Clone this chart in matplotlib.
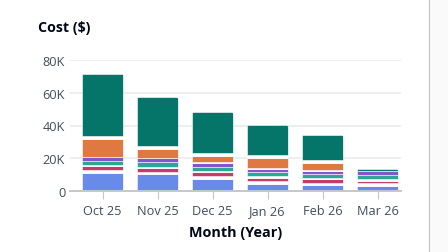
import matplotlib
matplotlib.use('Agg')
import matplotlib.pyplot as plt
import numpy as np
from matplotlib.patches import FancyBboxPatch, Rectangle
from matplotlib.lines import Line2D

plt.rcParams['font.family'] = ['Open Sans', 'DejaVu Sans']

# ---- data (values in $K, stack order bottom -> top) ----
months = ['Oct 25', 'Nov 25', 'Dec 25', 'Jan 26', 'Feb 26', 'Mar 26']
blue     = [11.2, 10.2, 7.3, 4.3, 3.7, 3.0]
gap1     = [1.6, 1.6, 1.6, 1.6, 1.4, 2.0]
pink     = [2.2, 2.2, 2.7, 2.2, 2.1, 1.4]
gap2     = [0.8, 0.8, 0.6, 0.8, 0.6, 1.2]
teal     = [2.4, 2.7, 2.6, 2.4, 2.4, 2.1]
purple   = [2.4, 2.4, 2.4, 2.4, 2.0, 2.3]
gap3     = [0.0, 0.3, 0.8, 0.6, 0.6, 0.1]
orange   = [11.0, 5.7, 3.4, 5.7, 4.1, 0.2]
gap4     = [1.8, 1.6, 2.1, 2.0, 1.8, 0.2]
darkteal = [38.3, 29.7, 24.6, 18.1, 15.5, 0.8]

series = [
    (blue, '#688ae8'),
    (gap1, '#ffffff'),
    (pink, '#c33d69'),
    (gap2, '#ffffff'),
    (teal, '#2ea597'),
    (purple, '#8456ce'),
    (gap3, '#ffffff'),
    (orange, '#e07941'),
    (gap4, '#ffffff'),
    (darkteal, '#067569'),
]

W, H = 448, 253
fig = plt.figure(figsize=(W / 100, H / 100), dpi=100)
fig.patch.set_facecolor('white')

# right-hand panel edge
fig.add_artist(Rectangle((429 / W, 0), 1 - 429 / W, 1, transform=fig.transFigure,
                         facecolor='#fafafa', edgecolor='none', zorder=0))
fig.add_artist(Line2D([428.5 / W, 428.5 / W], [0, 1], transform=fig.transFigure,
                      color='#c6c6cd', lw=0.9))

ax = fig.add_axes([70 / W, 1 - 192 / H, 331 / W, 131 / H])
x = np.arange(len(months))
bar_w = 0.758
bottom = np.zeros(len(months))
containers = []
for vals, col in series:
    v = np.array(vals) * 1000
    bc = ax.bar(x, v, bar_w, bottom=bottom, color=col, edgecolor='white',
                linewidth=0.4, zorder=3)
    containers.append(bc)
    bottom += v

ax.set_xlim(-0.591, 5.427)
ax.set_ylim(0, 80000)

# rounded corners per stacked bar (clip to a rounded box)
rx = 2.5 / 55.0
ry = 2.5 * 80000 / 131.0
for i in range(len(months)):
    p0 = containers[0].patches[i]
    clip = FancyBboxPatch((p0.get_x(), 0), p0.get_width(), bottom[i],
                          boxstyle=f'round,pad=0,rounding_size={rx}',
                          mutation_aspect=ry / rx, transform=ax.transData,
                          facecolor='none', edgecolor='none')
    for bc in containers:
        bc.patches[i].set_clip_path(clip)

ax.set_yticks([0, 20000, 40000, 60000, 80000])
ax.set_yticklabels(['0', '20K', '40K', '60K', '80K'])
ax.set_xticks(x)
ax.set_xticklabels(months)
ax.yaxis.grid(True, color='#e9ebed', lw=1.2, zorder=0)
ax.set_axisbelow(True)
for s in ['top', 'right', 'left']:
    ax.spines[s].set_visible(False)
ax.spines['bottom'].set_color('#c6c6cd')
ax.spines['bottom'].set_linewidth(1.4)
ax.spines['bottom'].set_zorder(4)
ax.tick_params(axis='y', length=0, pad=3.5, labelsize=9.2, colors='#414d5c')
ax.tick_params(axis='x', length=6, width=0.8, color='#c6c6cd', pad=3.5,
               labelsize=9.2, labelcolor='#414d5c')

ax.set_xlabel('Month (Year)', fontsize=10.4, fontweight='bold', color='#000716',
              labelpad=5.5)
fig.text(38 / W, 1 - 28 / H, 'Cost ($)', fontsize=10.2, fontweight='bold',
         color='#000716', ha='left', va='center')

fig.savefig('out.png', dpi=100)
